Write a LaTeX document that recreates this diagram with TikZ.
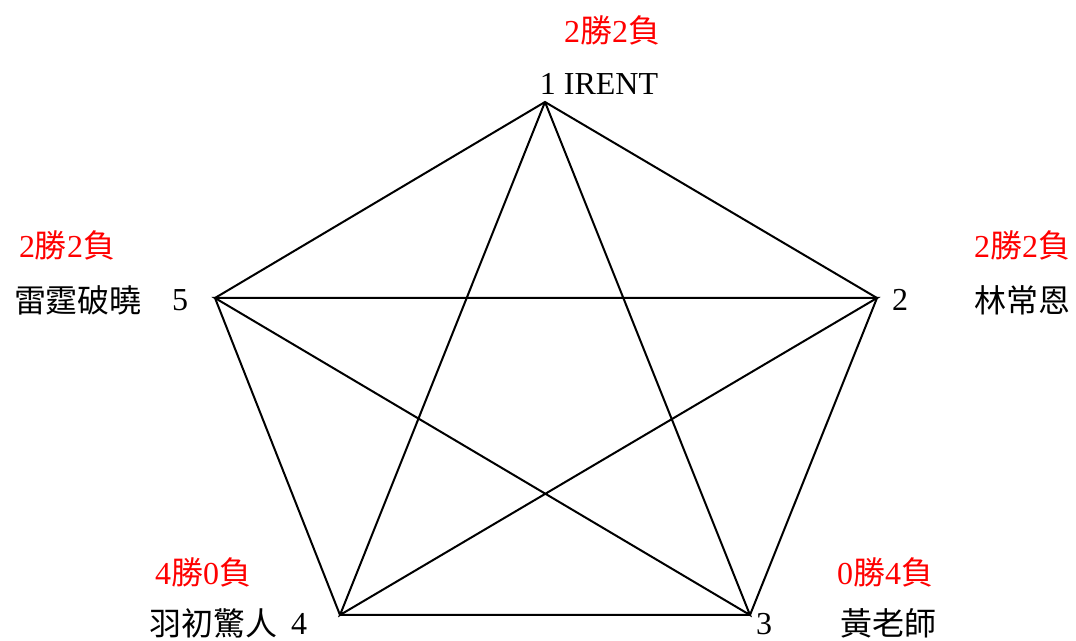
\documentclass[tikz,border=0pt]{standalone}
\usepackage{fontspec}
\setmainfont{Liberation Serif}
\newfontfamily\cjk{Noto Sans CJK TC}
\begin{document}
\begin{tikzpicture}[x=0.75pt,y=-0.75pt,
  lbl/.style={inner sep=0pt,font=\fontsize{24}{28}\selectfont},
  rec/.style={lbl,text=red},
  edge/.style={line width=1.5pt,line join=miter}]
\useasboundingbox (0,0) rectangle (1076,641);
\coordinate (v1) at (545,102);
\coordinate (v2) at (877,298);
\coordinate (v3) at (750,615);
\coordinate (v4) at (340,615);
\coordinate (v5) at (215,298);
\draw[edge] (v1) -- (v2) -- (v3) -- (v4) -- (v5) -- cycle;
\draw[edge] (v1) -- (v3) -- (v5) -- (v2) -- (v4) -- (v1);
% labels
\node[rec] (r1) at (612,30) {2{\cjk 勝}2{\cjk 負}};
\node[lbl] (n1) at (599,84) {1 IRENT};
\node[rec] (r5) at (67,245) {2{\cjk 勝}2{\cjk 負}};
\node[lbl] (t5) at (78,300) {\cjk 雷霆破曉};
\node[lbl] (n5) at (180,300) {5};
\node[rec] (r2) at (1022,245) {2{\cjk 勝}2{\cjk 負}};
\node[lbl] (n2) at (900,300) {2};
\node[lbl] (t2) at (1022,300) {\cjk 林常恩};
\node[rec] (r3) at (885,572) {0{\cjk 勝}4{\cjk 負}};
\node[lbl] (n3) at (764,624) {3};
\node[lbl] (t3) at (888,623) {\cjk 黃老師};
\node[rec] (r4) at (203,572) {4{\cjk 勝}0{\cjk 負}};
\node[lbl] (t4) at (213,623) {\cjk 羽初驚人};
\node[lbl] (n4) at (299,624) {4};
\end{tikzpicture}
\end{document}
